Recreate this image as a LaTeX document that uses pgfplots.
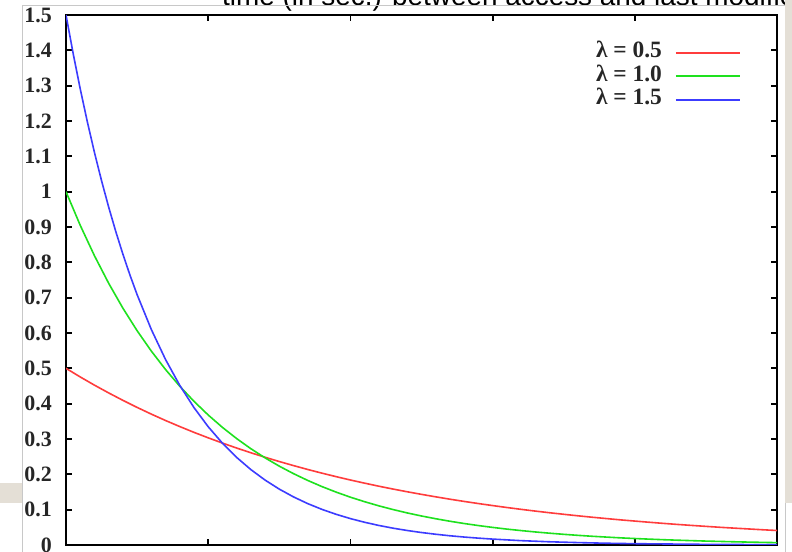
\documentclass[border=0pt]{standalone}
\usepackage{pgfplots}
\pgfplotsset{compat=1.18}
\usepackage{fontspec}
\setmainfont{Liberation Serif}
\newfontfamily\arial{Liberation Sans}
\definecolor{lamred}{RGB}{255,60,60}
\definecolor{lamgreen}{RGB}{30,225,30}
\definecolor{lamblue}{RGB}{60,60,255}
\definecolor{beige}{RGB}{228,223,214}
\definecolor{framec}{RGB}{200,200,200}
\begin{document}
\begin{tikzpicture}[x=1bp,y=1bp]
\path[use as bounding box] (0,0) rectangle (792,552);
\clip (0,0) rectangle (792,552);
\fill[white] (0,0) rectangle (792,552);
\begin{axis}[
  at={(66bp,7bp)}, anchor=south west,
  scale only axis, width=711bp, height=530bp,
  xmin=0, xmax=5, ymin=0, ymax=1.5,
  xtick={0,1,2,3,4,5}, xticklabels={},
  ytick={0,0.1,0.2,0.3,0.4,0.5,0.6,0.7,0.8,0.9,1,1.1,1.2,1.3,1.4,1.5},
  yticklabels={0,0.1,0.2,0.3,0.4,0.5,0.6,0.7,0.8,0.9,1,1.1,1.2,1.3,1.4,1.5},
  /pgf/number format/assume math mode=true,
  tick align=inside, major tick length=6bp,
  axis line style={line width=2.2bp, black},
  every tick/.style={black, line width=1.8bp},
  ticklabel style={font=\bfseries\fontsize{22}{24}\selectfont, text=black!85},
  yticklabel style={inner sep=0pt, xshift=-14bp},
  legend plot pos=right,
  legend cell align=right,
  legend style={draw=none, fill=none, at={(rel axis cs:0.9494,0.946)}, anchor=north east,
    inner sep=0pt, row sep=5.5bp, column sep=13bp,
    font=\bfseries\fontsize{23.5}{24}\selectfont, text=black!85,
    nodes={inner sep=0pt, text height=14bp, text depth=4bp}},
  legend image code/.code={\draw[#1, line width=2bp] (0bp,0bp) -- (64bp,0bp);},
  every axis plot/.append style={line width=1.6bp},
]
\addplot[lamred] coordinates {
(0,0.5) (0.1,0.4756) (0.2,0.4524) (0.3,0.4304) (0.4,0.4094) (0.5,0.3894)
(0.6,0.3704) (0.7,0.3523) (0.8,0.3352) (0.9,0.3188) (1.0,0.3033)
(1.1,0.2885) (1.2,0.2744) (1.3,0.2610) (1.4,0.2483) (1.5,0.2362)
(1.6,0.2247) (1.7,0.2137) (1.8,0.2033) (1.9,0.1934) (2.0,0.1839)
(2.1,0.1750) (2.2,0.1664) (2.3,0.1583) (2.4,0.1506) (2.5,0.1433)
(2.6,0.1363) (2.7,0.1296) (2.8,0.1233) (2.9,0.1173) (3.0,0.1116)
(3.1,0.1061) (3.2,0.1009) (3.3,0.0960) (3.4,0.0913) (3.5,0.0869)
(3.6,0.0826) (3.7,0.0786) (3.8,0.0748) (3.9,0.0711) (4.0,0.0677)
(4.1,0.0644) (4.2,0.0612) (4.3,0.0582) (4.4,0.0554) (4.5,0.0527)
(4.6,0.0501) (4.7,0.0477) (4.8,0.0454) (4.9,0.0431) (5.0,0.0410)
};
\addlegendentry{λ = 0.5}
\addplot[lamgreen] coordinates {
(0,1) (0.1,0.9048) (0.2,0.8187) (0.3,0.7408) (0.4,0.6703) (0.5,0.6065)
(0.6,0.5488) (0.7,0.4966) (0.8,0.4493) (0.9,0.4066) (1.0,0.3679)
(1.1,0.3329) (1.2,0.3012) (1.3,0.2725) (1.4,0.2466) (1.5,0.2231)
(1.6,0.2019) (1.7,0.1827) (1.8,0.1653) (1.9,0.1496) (2.0,0.1353)
(2.1,0.1225) (2.2,0.1108) (2.3,0.1003) (2.4,0.0907) (2.5,0.0821)
(2.6,0.0743) (2.7,0.0672) (2.8,0.0608) (2.9,0.0550) (3.0,0.0498)
(3.1,0.0450) (3.2,0.0408) (3.3,0.0369) (3.4,0.0334) (3.5,0.0302)
(3.6,0.0273) (3.7,0.0247) (3.8,0.0224) (3.9,0.0202) (4.0,0.0183)
(4.1,0.0166) (4.2,0.0150) (4.3,0.0136) (4.4,0.0123) (4.5,0.0111)
(4.6,0.0101) (4.7,0.0091) (4.8,0.0082) (4.9,0.0074) (5.0,0.0067)
};
\addlegendentry{λ = 1.0}
\addplot[lamblue] coordinates {
(0,1.5) (0.05,1.3917) (0.1,1.2911) (0.15,1.1978) (0.2,1.1112) (0.25,1.0309)
(0.3,0.9564) (0.35,0.8873) (0.4,0.8232) (0.45,0.7637) (0.5,0.7086)
(0.6,0.6099) (0.7,0.5249) (0.8,0.4518) (0.9,0.3889) (1.0,0.3347)
(1.1,0.2881) (1.2,0.2479) (1.3,0.2134) (1.4,0.1837) (1.5,0.1581)
(1.6,0.1361) (1.7,0.1171) (1.8,0.1008) (1.9,0.0868) (2.0,0.0747)
(2.1,0.0643) (2.2,0.0553) (2.3,0.0476) (2.4,0.0410) (2.5,0.0353)
(2.6,0.0304) (2.7,0.0261) (2.8,0.0225) (2.9,0.0194) (3.0,0.0167)
(3.2,0.0123) (3.4,0.0091) (3.6,0.0068) (3.8,0.0050) (4.0,0.0037)
(4.5,0.0018) (5.0,0.0008)
};
\addlegendentry{λ = 1.5}
\end{axis}
\node[anchor=base west, inner sep=0pt, font=\arial\fontsize{28}{30}\selectfont] at (222,546) {time (in sec.) between access and last modified};
\fill[white] (0,0) rectangle (21.5,552);
\fill[beige] (0,49) rectangle (21.5,69);
\fill[beige] (785,49) rectangle (792,552);
\draw[framec, line width=1bp] (22,0) -- (22,546) -- (785,546);
\draw[framec, line width=1bp] (785,0) -- (785,49);
\end{tikzpicture}
\end{document}
